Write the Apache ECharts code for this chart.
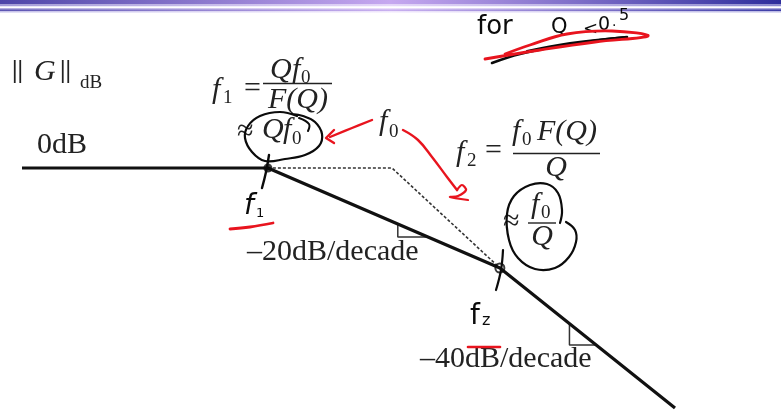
<!DOCTYPE html>
<html>
<head>
<meta charset="utf-8">
<script src="https://cdn.jsdelivr.net/npm/echarts@6/dist/echarts.min.js"></script>
<style>
  html, body { margin: 0; padding: 0; background: #fff; }
  #chart { width: 781px; height: 413px; }
</style>
</head>
<body>
<div id="chart"></div>
<script>
// Asymptotic magnitude of a low-Q second-order system.
// x: decades of frequency measured from f1 = Q·f0, y: ||G|| in dB.
const breakDecades = [-2.12, 0, 2, 3.51];
const asymptoteDb  = [0, 0, -40, -96];

// Ideal double-pole asymptote through f0 (dotted)
const dottedDecades = [0, 1.07, 2];
const dottedDb      = [0, 0, -40];

// Slope triangles under each segment
const slope20Decades = [1.12, 1.12, 1.38];
const slope20Db      = [-22.4, -27.6, -27.6];
const slope40Decades = [2.6, 2.6, 2.83];
const slope40Db      = [-62.3, -70.8, -70.8];

// Corner frequencies f1 and f2
const cornerDecades = [0, 2];
const cornerDb      = [0, -40];

const slopeLabels = ['\u201320dB/decade', '\u201340dB/decade'];

const zip = (xs, ys) => xs.map((x, i) => [x, ys[i]]);

const SERIF = '"Liberation Serif", "Times New Roman", serif';
const HAND = '"DejaVu Sans", sans-serif';
const INK = '#222';
const PEN = '#0b0b0b';
const RED = '#e8141e';

function txt(text, x, y, size, opt) {
  opt = opt || {};
  return {
    type: 'text', x: x, y: y, z: 10,
    style: {
      text: text,
      fontFamily: opt.family || SERIF,
      fontSize: size,
      fontStyle: opt.italic ? 'italic' : 'normal',
      fontWeight: opt.bold ? 'bold' : 'normal',
      fill: opt.fill || INK,
      align: opt.align || 'left',
      verticalAlign: 'middle'
    }
  };
}
function bar(x1, x2, y) {
  return { type: 'line', z: 10, shape: { x1: x1, y1: y, x2: x2, y2: y },
           style: { stroke: INK, lineWidth: 1.4 } };
}
function stroke(points, color, width, smooth) {
  return { type: 'polyline', z: 12,
           shape: { points: points, smooth: smooth === undefined ? 0.4 : smooth },
           style: { stroke: color, lineWidth: width, fill: null, lineCap: 'round', lineJoin: 'round' } };
}
function band(y, h, c1, c2, c3) {
  return { type: 'rect', shape: { x: 0, y: y, width: 781, height: h },
           style: { fill: new echarts.graphic.LinearGradient(0, 0, 1, 0, [
             { offset: 0, color: c1 }, { offset: 0.5, color: c2 }, { offset: 1, color: c3 }]) } };
}

const chart = echarts.init(document.getElementById('chart'), null, { renderer: 'canvas' });

chart.setOption({
  backgroundColor: '#ffffff',
  animation: false,
  grid: { left: 22, right: 106, top: 143, bottom: 5 },
  xAxis: { type: 'value', min: -2.12, max: 3.51, show: false },
  yAxis: { type: 'value', min: -96, max: 10, show: false },
  series: [
    {
      type: 'line', data: zip(breakDecades, asymptoteDb), symbol: 'none', clip: false,
      lineStyle: { color: '#111', width: 3.2 }, z: 5
    },
    {
      type: 'line', data: zip(dottedDecades, dottedDb), symbol: 'none', clip: false,
      lineStyle: { color: '#333', width: 1.6, type: [3, 2] }, z: 4
    },
    {
      type: 'line', data: zip(slope20Decades, slope20Db), symbol: 'none', clip: false,
      lineStyle: { color: '#333', width: 1.5 }, z: 4
    },
    {
      type: 'line', data: zip(slope40Decades, slope40Db), symbol: 'none', clip: false,
      lineStyle: { color: '#333', width: 1.5 }, z: 4
    },
    {
      // pen dot on f1
      type: 'scatter', data: [zip(cornerDecades, cornerDb)[0]], symbolSize: 9,
      itemStyle: { color: '#0b0b0b' }, z: 8
    },
    {
      // pen ring on f2
      type: 'scatter', data: [zip(cornerDecades, cornerDb)[1]], symbolSize: 9,
      itemStyle: { color: 'rgba(0,0,0,0)', borderColor: '#0b0b0b', borderWidth: 2 }, z: 8
    }
  ],
  graphic: [
    // title bar
    band(0, 4.5, '#4d45a8', '#c6a8f0', '#2e2e9c'),
    band(4.5, 1.8, '#a39bd8', '#e6d8fa', '#8a88cf'),
    band(8, 1.2, '#b4aee0', '#ecdffb', '#a6a4dc'),
    band(9.2, 2, '#5c55b2', '#c9b0f0', '#3c3ca6'),
    band(11.2, 1.3, '#c2bde8', '#f0e6fc', '#b8b6e4'),

    // ||G||dB
    txt('||', 12, 72, 25, { bold: true }),
    txt('G', 34, 72, 30, { italic: true }),
    txt('||', 60, 72, 25, { bold: true }),
    txt('dB', 80, 83.5, 19),

    // f1 = Q f0 / F(Q)  ≈ Q f0
    txt('f', 212, 90, 30, { italic: true }),
    txt('1', 223, 98.5, 19),
    txt('=', 244, 89, 30),
    txt('Q', 270, 70, 30, { italic: true }),
    txt('f', 292, 70, 30, { italic: true }),
    txt('0', 301, 78.5, 19),
    bar(263, 332, 83.5),
    txt('F(Q)', 298, 100, 30, { italic: true, align: 'center' }),
    txt('\u2248', 237, 132, 30),
    txt('Q', 262, 130, 30, { italic: true }),
    txt('f', 283, 130, 30, { italic: true }),
    txt('0', 292, 139.5, 19),

    txt('0dB', 37, 145, 30),

    // f0
    txt('f', 379, 122, 30, { italic: true }),
    txt('0', 389, 132.5, 19),

    // f2 = f0 F(Q) / Q  ≈ f0 / Q
    txt('f', 456, 153, 30, { italic: true }),
    txt('2', 467, 161, 19),
    txt('=', 485, 151, 30),
    txt('f', 512, 132.5, 30, { italic: true }),
    txt('0', 522, 140, 19),
    txt('F(Q)', 537, 132.5, 30, { italic: true }),
    bar(513, 600, 153.5),
    txt('Q', 556, 168, 30, { italic: true, align: 'center' }),
    txt('\u2248', 503, 222, 30),
    txt('f', 531, 205, 30, { italic: true }),
    txt('0', 541, 213, 19),
    bar(528, 556, 223),
    txt('Q', 542, 237, 30, { italic: true, align: 'center' }),

    // slope labels
    txt(slopeLabels[0], 247, 252, 30),
    txt(slopeLabels[1], 420, 359, 30),

    // pen notes
    txt('for', 477, 27, 26, { family: HAND, fill: PEN }),
    txt('Q', 551, 28, 21, { family: HAND, fill: PEN }),
    txt('<', 583, 29, 18, { family: HAND, fill: PEN }),
    txt('0', 598, 25, 19, { family: HAND, fill: PEN }),
    txt('.', 612, 22, 14, { family: HAND, fill: PEN }),
    txt('5', 619, 16, 16, { family: HAND, fill: PEN }),
    stroke([[492, 63], [520, 54], [560, 46], [600, 40], [627, 37]], PEN, 2.6),
    stroke([[527, 51], [570, 43], [626, 37]], PEN, 2.2),
    stroke([[485, 59], [540, 50], [595, 42], [648, 36], [612, 31], [567, 34], [530, 45], [505, 54]], RED, 2.8),

    txt('f', 244, 207, 28, { family: HAND, fill: PEN, italic: true }),
    txt('1', 256, 214, 13, { family: HAND, fill: PEN }),
    stroke([[230, 229], [250, 227], [273, 223]], RED, 2.8),
    txt('f', 470, 317, 28, { family: HAND, fill: PEN }),
    txt('z', 482, 321, 16, { family: HAND, fill: PEN }),
    stroke([[468, 347], [500, 347]], RED, 2.6, 0),

    // pen marks through the corners
    stroke([[269, 155], [266, 172], [262, 188]], PEN, 2.4),
    stroke([[503, 250], [501, 270], [496, 290]], PEN, 2.2),

    // loop around ≈Qf0 with its hook
    stroke([[297, 116], [280, 112], [260, 116], [248, 126], [245, 138], [252, 152], [265, 161],
            [285, 159], [305, 155], [319, 146], [322, 134], [315, 122], [303, 116], [292, 114]], PEN, 2.2),
    stroke([[299, 118], [309, 124], [308, 131]], PEN, 2),

    // loop around ≈f0/Q
    stroke([[560, 223], [562, 210], [558, 193], [547, 184], [530, 185], [514, 196], [507, 214],
            [509, 240], [518, 258], [535, 269], [555, 268], [569, 257], [576, 242], [575, 230], [566, 222]], PEN, 2.2),

    // red arrow pointing at ≈Qf0
    stroke([[372, 120], [352, 128], [330, 137]], RED, 2.4),
    stroke([[334, 130], [326, 138], [334, 143]], RED, 2.4, 0),

    // red curve from f0 down toward f2
    stroke([[403, 130], [418, 140], [432, 157], [447, 177], [457, 190]], RED, 2.4),
    stroke([[457, 190], [462, 185], [466, 190], [458, 196], [450, 197], [468, 200]], RED, 2.2, 0.3)
  ]
});
</script>
</body>
</html>
